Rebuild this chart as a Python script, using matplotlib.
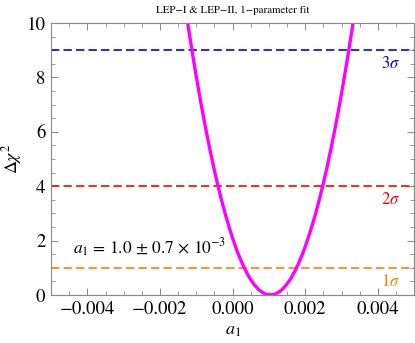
import matplotlib
matplotlib.use("Agg")
import matplotlib.pyplot as plt
from matplotlib.ticker import MultipleLocator

plt.rcParams["font.family"] = "STIXGeneral"
plt.rcParams["mathtext.fontset"] = "stix"

# Δχ² curve (a1 step 0.0001)
a1 = [-0.0013, -0.0012, -0.0011, -0.0010, -0.0009, -0.0008, -0.0007, -0.0006,
      -0.0005, -0.0004, -0.0003, -0.0002, -0.0001, 0.0000, 0.0001, 0.0002,
      0.0003, 0.0004, 0.0005, 0.0006, 0.0007, 0.0008, 0.0009, 0.0010,
      0.0011, 0.0012, 0.0013, 0.0014, 0.0015, 0.0016, 0.0017, 0.0018,
      0.0019, 0.0020, 0.0021, 0.0022, 0.0023, 0.0024, 0.0025, 0.0026,
      0.0027, 0.0028, 0.0029, 0.0030, 0.0031, 0.0032, 0.0033, 0.0034]
dchi2 = [10.56, 9.68, 8.83, 8.03, 7.26, 6.53, 5.84, 5.19,
         4.57, 4.0, 3.46, 2.97, 2.51, 2.09, 1.70, 1.36,
         1.06, 0.79, 0.56, 0.37, 0.22, 0.11, 0.04, 0.003,
         0.007, 0.05, 0.13, 0.25, 0.41, 0.60, 0.84, 1.11,
         1.43, 1.78, 2.17, 2.60, 3.06, 3.57, 4.11, 4.69,
         5.32, 5.98, 6.67, 7.41, 8.19, 9.0, 9.85, 10.74]

levels = [1, 4, 9]
level_labels = [r"$1\sigma$", r"$2\sigma$", r"$3\sigma$"]
level_colors = ["#ff8000", "#ff0000", "#0000ff"]

fig = plt.figure(figsize=(4.15, 3.43), dpi=100)
ax = fig.add_axes([0.123, 0.140, 0.875, 0.793])

for lv, lab, col in zip(levels, level_labels, level_colors):
    ax.axhline(lv, color=col, lw=1.2, dashes=(5, 2.5))
    ax.text(0.00435, lv - 0.22, lab, color=col, fontsize=12, ha="center", va="top")

ax.plot(a1, dchi2, color="#ff00ff", lw=2.4, solid_capstyle="butt")

ax.text(-0.0044, 1.5, r"$a_1$ = 1.0 $\pm$ 0.7 $\times$ 10$^{-3}$", fontsize=12.5)

ax.set_xlim(-0.005, 0.005)
ax.set_ylim(0, 10)
ax.xaxis.set_major_locator(MultipleLocator(0.002))
ax.xaxis.set_minor_locator(MultipleLocator(0.0005))
ax.yaxis.set_major_locator(MultipleLocator(2))
ax.yaxis.set_minor_locator(MultipleLocator(0.5))
ax.set_xticks([-0.004, -0.002, 0.0, 0.002, 0.004])
ax.set_xticklabels(["\u22120.004", "\u22120.002", "0.000", "0.002", "0.004"])

frame = "#888888"
for s in ax.spines.values():
    s.set_color(frame)
    s.set_linewidth(0.8)
ax.tick_params(which="both", direction="in", top=True, right=True,
               color=frame, labelsize=13.5, pad=4)
ax.tick_params(which="major", length=5, width=0.7)
ax.tick_params(which="minor", length=2.8, width=0.6)

ax.set_xlabel(r"$a_1$", fontsize=13, labelpad=4)
ax.set_ylabel(r"$\Delta\chi^2$", fontsize=13, labelpad=2)
ax.set_title("LEP\u2212I & LEP\u2212II, 1\u2212parameter fit", fontsize=7.8, pad=7)

fig.savefig("out.png", dpi=100)
